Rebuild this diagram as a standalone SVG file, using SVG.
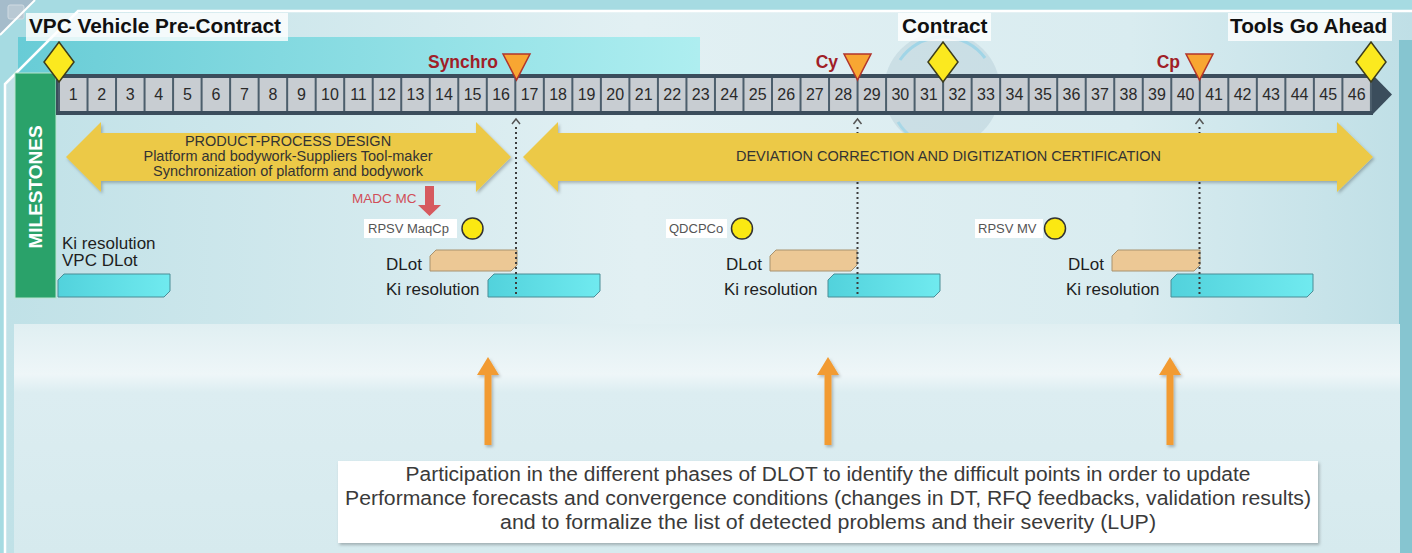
<svg xmlns="http://www.w3.org/2000/svg" width="1412" height="553" viewBox="0 0 1412 553">
<defs>
<style>
text{font-family:"Liberation Sans",Arial,sans-serif;}
.num{font-size:16px;fill:#2a2a2a;text-anchor:middle;}
.title{font-size:20.8px;font-weight:bold;fill:#111;}
.tbox{fill:#ffffff;fill-opacity:0.8;}
.ms{font-size:17.5px;font-weight:bold;fill:#a01e28;text-anchor:end;}
.lbl{font-size:17px;fill:#1e1e1e;}
.tag{font-size:13px;fill:#555;}
.tagbox{fill:#ffffff;}
.dot{fill:#fbe812;stroke:#333;stroke-width:1.5;}
.dlot{fill:#ecc895;stroke:#a8926f;stroke-width:1;}
.ki{fill:url(#kiG);stroke:#4a8d96;stroke-width:1;}
.ya{fill:#ecc946;filter:url(#sh);}
.yt{font-size:14.5px;fill:#333;text-anchor:middle;}
.diam{fill:#fbe91f;stroke:#3d3d1c;stroke-width:1.5;}
.tri{fill:#f8a632;stroke:#b2352b;stroke-width:1.5;}
.dotted{stroke:#3d3d3d;stroke-width:2;stroke-dasharray:2 3;fill:none;}
.caret{stroke:#555;stroke-width:1.5;fill:none;}
.oa{fill:#f29b33;filter:url(#sh);}
.bt{font-size:20px;fill:#3a3a3a;text-anchor:middle;}
</style>
<linearGradient id="bgG" x1="0" y1="0" x2="1" y2="0">
<stop offset="0" stop-color="#c0e1e7"/>
<stop offset="0.45" stop-color="#e2f0f3"/>
<stop offset="0.8" stop-color="#d9ecf0"/>
<stop offset="1" stop-color="#bfdfe6"/>
</linearGradient>
<linearGradient id="cyG" x1="0" y1="0" x2="1" y2="0">
<stop offset="0" stop-color="#68ccd6"/>
<stop offset="1" stop-color="#aeeef0"/>
</linearGradient>
<linearGradient id="kiG" x1="0" y1="0" x2="1" y2="0">
<stop offset="0" stop-color="#52d2dc"/>
<stop offset="1" stop-color="#70eaef"/>
</linearGradient>
<linearGradient id="lowG" x1="0" y1="0" x2="0" y2="1">
<stop offset="0" stop-color="#e0eff2"/>
<stop offset="0.22" stop-color="#eef6f8"/>
<stop offset="0.3" stop-color="#dcedf1"/>
<stop offset="1" stop-color="#d6eaee"/>
</linearGradient>
<filter id="sh" x="-10%" y="-10%" width="130%" height="130%">
<feDropShadow dx="1.5" dy="2" stdDeviation="1.5" flood-color="#000" flood-opacity="0.25"/>
</filter>
</defs>

<g id="background">
<rect x="0" y="0" width="1412" height="553" fill="#a6dbe2"/>
<polygon points="0,0 35,0 0,35" fill="#a5bccb"/>
<rect x="8" y="5" width="16" height="14" rx="2" fill="#b9c9d4" stroke="#d0dbe2"/>
<polygon points="78,11 1412,11 1412,553 5,553 5,84" fill="url(#bgG)"/>
<rect x="1399" y="40" width="13" height="513" fill="#86c5d0"/>
<rect x="18" y="37" width="682" height="37" fill="url(#cyG)"/>
<circle cx="942" cy="90" r="58" fill="#a9c4cd" fill-opacity="0.35"/>
<path d="M 900 60 A 52 52 0 0 1 985 58" stroke="#86cfe8" stroke-width="3" fill="none" opacity="0.6"/>
<path d="M 898 122 A 52 52 0 0 0 975 135" stroke="#86cfe8" stroke-width="3" fill="none" opacity="0.5"/>
<rect x="14" y="324" width="1386" height="229" fill="url(#lowG)"/>
<polyline points="1412,11 78,11 5,84 5,553" fill="none" stroke="#ffffff" stroke-width="2.5"/>
<line x1="35" y1="0" x2="0" y2="35" stroke="#ffffff" stroke-width="2"/>
</g>

<g id="titles">
<rect class="tbox" x="26" y="13" width="262" height="28"/>
<text class="title" x="29" y="33">VPC Vehicle Pre-Contract</text>
<rect class="tbox" x="898" y="13" width="93" height="28"/>
<text class="title" x="902" y="33">Contract</text>
<rect class="tbox" x="1228" y="13" width="164" height="28"/>
<text class="title" x="1230" y="33">Tools Go Ahead</text>
</g>

<g id="milestones-bar">
<rect x="15" y="73" width="41" height="225" fill="#2aa26a" stroke="#b9e5cf" stroke-width="1"/>
<text x="0" y="0" transform="translate(42,187) rotate(-90)" font-size="19" font-weight="bold" fill="#ffffff" text-anchor="middle">MILESTONES</text>
</g>

<g id="timeline">
<rect x="56" y="74" width="1317" height="41" fill="#3b4d5c"/>
<polygon points="1372,74 1392,94.5 1372,115" fill="#3b4d5c"/>
<rect x="59" y="78" width="1312" height="33" fill="#c8cdd2"/>
<path d="M59 78V111M87.52 78V111M116.04 78V111M144.56 78V111M173.08 78V111M201.6 78V111M230.12 78V111M258.64 78V111M287.16 78V111M315.68 78V111M344.2 78V111M372.72 78V111M401.24 78V111M429.76 78V111M458.28 78V111M486.8 78V111M515.32 78V111M543.84 78V111M572.36 78V111M600.88 78V111M629.4 78V111M657.92 78V111M686.44 78V111M714.96 78V111M743.48 78V111M772 78V111M800.52 78V111M829.04 78V111M857.56 78V111M886.08 78V111M914.6 78V111M943.12 78V111M971.64 78V111M1000.16 78V111M1028.68 78V111M1057.2 78V111M1085.72 78V111M1114.24 78V111M1142.76 78V111M1171.28 78V111M1199.8 78V111M1228.32 78V111M1256.84 78V111M1285.36 78V111M1313.88 78V111M1342.4 78V111M1370.92 78V111" stroke="#4c5e6c" stroke-width="2"/>
<text class="num" x="73.26" y="100">1</text>
<text class="num" x="101.78" y="100">2</text>
<text class="num" x="130.3" y="100">3</text>
<text class="num" x="158.82" y="100">4</text>
<text class="num" x="187.34" y="100">5</text>
<text class="num" x="215.86" y="100">6</text>
<text class="num" x="244.38" y="100">7</text>
<text class="num" x="272.9" y="100">8</text>
<text class="num" x="301.42" y="100">9</text>
<text class="num" x="329.94" y="100">10</text>
<text class="num" x="358.46" y="100">11</text>
<text class="num" x="386.98" y="100">12</text>
<text class="num" x="415.5" y="100">13</text>
<text class="num" x="444.02" y="100">14</text>
<text class="num" x="472.54" y="100">15</text>
<text class="num" x="501.06" y="100">16</text>
<text class="num" x="529.58" y="100">17</text>
<text class="num" x="558.1" y="100">18</text>
<text class="num" x="586.62" y="100">19</text>
<text class="num" x="615.14" y="100">20</text>
<text class="num" x="643.66" y="100">21</text>
<text class="num" x="672.18" y="100">22</text>
<text class="num" x="700.7" y="100">23</text>
<text class="num" x="729.22" y="100">24</text>
<text class="num" x="757.74" y="100">25</text>
<text class="num" x="786.26" y="100">26</text>
<text class="num" x="814.78" y="100">27</text>
<text class="num" x="843.3" y="100">28</text>
<text class="num" x="871.82" y="100">29</text>
<text class="num" x="900.34" y="100">30</text>
<text class="num" x="928.86" y="100">31</text>
<text class="num" x="957.38" y="100">32</text>
<text class="num" x="985.9" y="100">33</text>
<text class="num" x="1014.42" y="100">34</text>
<text class="num" x="1042.94" y="100">35</text>
<text class="num" x="1071.46" y="100">36</text>
<text class="num" x="1099.98" y="100">37</text>
<text class="num" x="1128.5" y="100">38</text>
<text class="num" x="1157.02" y="100">39</text>
<text class="num" x="1185.54" y="100">40</text>
<text class="num" x="1214.06" y="100">41</text>
<text class="num" x="1242.58" y="100">42</text>
<text class="num" x="1271.1" y="100">43</text>
<text class="num" x="1299.62" y="100">44</text>
<text class="num" x="1328.14" y="100">45</text>
<text class="num" x="1356.66" y="100">46</text>
</g>

<g id="milestone-vpc"><polygon class="diam" points="59,42 74,62 59,82 44,62"/></g>
<g id="milestone-contract"><polygon class="diam" points="943,42 958,62 943,82 928,62"/></g>
<g id="milestone-tga"><polygon class="diam" points="1371,42 1386,62 1371,82 1356,62"/></g>

<g id="milestone-synchro">
<text class="ms" x="498" y="68">Synchro</text>
<polygon class="tri" points="503,54 530,54 516.5,80"/>
</g>
<g id="milestone-cy">
<text class="ms" x="838" y="68">Cy</text>
<polygon class="tri" points="844,54 871,54 857.5,80"/>
</g>
<g id="milestone-cp">
<text class="ms" x="1180" y="68">Cp</text>
<polygon class="tri" points="1186,54 1213,54 1199.5,80"/>
</g>

<g id="boxes-left">
<text class="lbl" x="62" y="249">Ki resolution</text>
<text class="lbl" x="62" y="266">VPC DLot</text>
<polygon class="ki" points="64,274 170,274 170,291 164,297 58,297 58,280"/>
</g>

<g id="group-synchro">
<rect class="tagbox" x="364" y="219" width="93" height="19"/>
<text class="tag" x="368" y="233">RPSV MaqCp</text>
<circle class="dot" cx="472.5" cy="228.5" r="10.5"/>
<text class="lbl" x="386" y="270">DLot</text>
<polygon class="dlot" points="436,250 517,250 517,265 511,271 430,271 430,256"/>
<text class="lbl" x="386" y="295">Ki resolution</text>
<polygon class="ki" points="494,274 600,274 600,291 594,297 488,297 488,280"/>
</g>

<g id="group-cy">
<rect class="tagbox" x="666" y="219" width="61" height="19"/>
<text class="tag" x="669" y="233">QDCPCo</text>
<circle class="dot" cx="742" cy="228.5" r="10.5"/>
<text class="lbl" x="726" y="270">DLot</text>
<polygon class="dlot" points="776,250 857,250 857,265 851,271 770,271 770,256"/>
<text class="lbl" x="724" y="295">Ki resolution</text>
<polygon class="ki" points="834,274 940,274 940,291 934,297 828,297 828,280"/>
</g>

<g id="group-cp">
<rect class="tagbox" x="975" y="219" width="68" height="19"/>
<text class="tag" x="978" y="233">RPSV MV</text>
<circle class="dot" cx="1055" cy="228.5" r="10.5"/>
<text class="lbl" x="1068" y="270">DLot</text>
<polygon class="dlot" points="1118,250 1200,250 1200,265 1194,271 1112,271 1112,256"/>
<text class="lbl" x="1066" y="295">Ki resolution</text>
<polygon class="ki" points="1177,274 1313,274 1313,291 1307,297 1171,297 1171,280"/>
</g>

<g id="connectors">
<path class="caret" d="M512 124L516 119L520 124"/>
<line class="dotted" x1="516" y1="127" x2="516" y2="297"/>
<path class="caret" d="M853.5 124L857.5 119L861.5 124"/>
<line class="dotted" x1="857.5" y1="127" x2="857.5" y2="297"/>
<path class="caret" d="M1195.5 124L1199.5 119L1203.5 124"/>
<line class="dotted" x1="1199.5" y1="127" x2="1199.5" y2="297"/>
<polygon class="oa" points="488,357 499,375 491.5,375 491.5,445 484.5,445 484.5,375 477,375"/>
<polygon class="oa" points="828,357 839,375 831.5,375 831.5,445 824.5,445 824.5,375 817,375"/>
<polygon class="oa" points="1170,357 1181,375 1173.5,375 1173.5,445 1166.5,445 1166.5,375 1159,375"/>
<polygon points="425,186 434,186 434,205 441,205 429.5,216 418,205 425,205" fill="#d65a5f"/>
</g>

<g id="phase-design">
<polygon class="ya" points="66,157 101,122 101,133 476,133 476,122 511,157 476,192 476,181 101,181 101,192"/>
<text class="yt" x="288" y="146">PRODUCT-PROCESS DESIGN</text>
<text class="yt" x="288" y="161">Platform and bodywork-Suppliers Tool-maker</text>
<text class="yt" x="288" y="176">Synchronization of platform and bodywork</text>
</g>

<g id="phase-deviation">
<polygon class="ya" points="523,157 558,122 558,133 1337,133 1337,122 1373,157 1337,192 1337,181 558,181 558,192"/>
<text class="yt" x="948.5" y="161">DEVIATION CORRECTION AND DIGITIZATION CERTIFICATION</text>
</g>

<g id="madc">
<text x="352" y="203" font-size="13.5" fill="#d14e58">MADC MC</text>
</g>

<g id="note">
<rect x="338" y="461" width="980" height="82" fill="#ffffff" filter="url(#sh)"/>
<text class="bt" x="828" y="481" textLength="845" lengthAdjust="spacingAndGlyphs">Participation in the different phases of DLOT to identify the difficult points in order to update</text>
<text class="bt" x="828" y="505" textLength="966" lengthAdjust="spacingAndGlyphs">Performance forecasts and convergence conditions (changes in DT, RFQ feedbacks, validation results)</text>
<text class="bt" x="828" y="529" textLength="656" lengthAdjust="spacingAndGlyphs">and to formalize the list of detected problems and their severity (LUP)</text>
</g>
</svg>
